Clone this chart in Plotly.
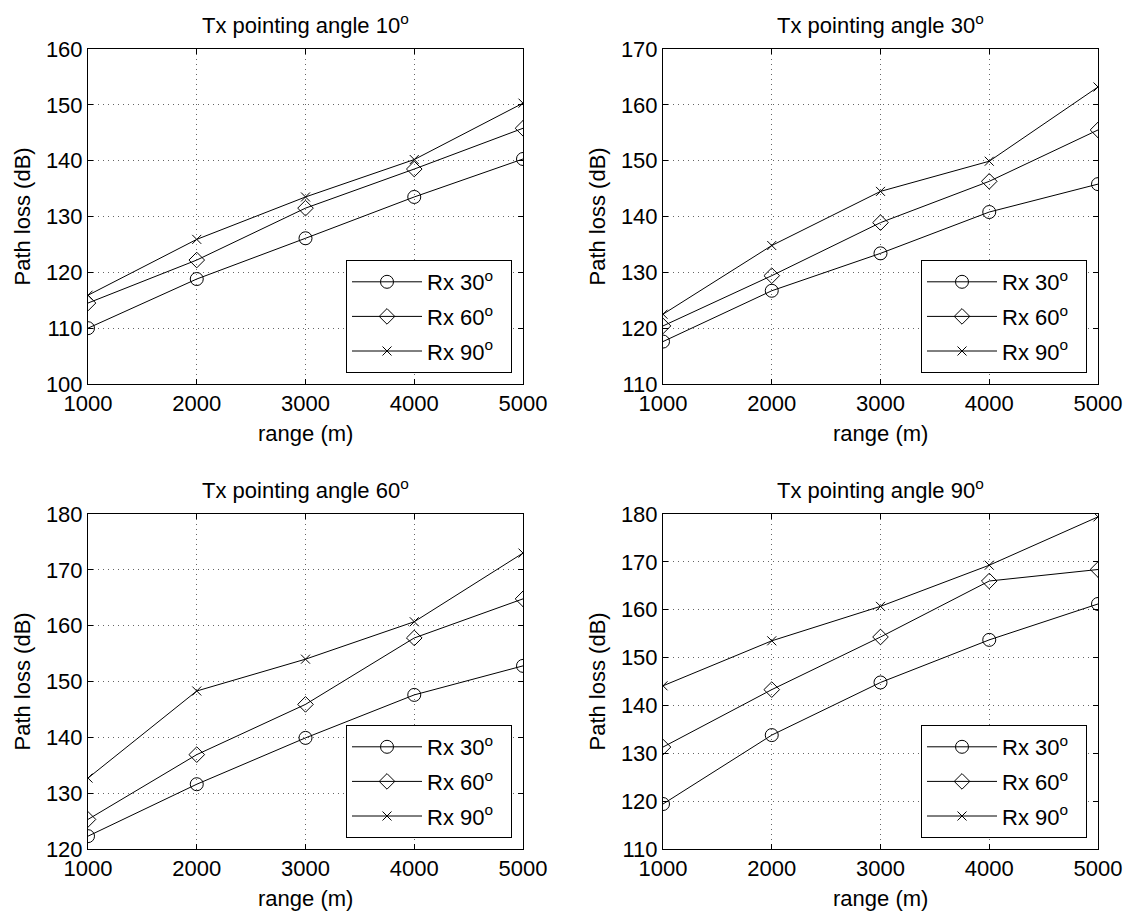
import plotly.graph_objects as go

# page body has an 8px margin, so the figure is drawn 8px in from the page corner
OFF = 8
W, H = 1133 - OFF, 914 - OFF

ranges_m = [1000, 2000, 3000, 4000, 5000]
series_names = ["Rx 30<sup>o</sup>&nbsp;&nbsp;", "Rx 60<sup>o</sup>&nbsp;&nbsp;",
                "Rx 90<sup>o</sup>&nbsp;&nbsp;"]
tx_titles = ["Tx pointing angle 10<sup>o</sup>", "Tx pointing angle 30<sup>o</sup>",
             "Tx pointing angle 60<sup>o</sup>", "Tx pointing angle 90<sup>o</sup>"]
x_title = "range (m)"
y_title = "Path loss (dB)"

# Tx 10 deg
tx10_rx30 = [110.0, 118.8, 126.1, 133.5, 140.3]
tx10_rx60 = [114.5, 122.2, 131.5, 138.5, 145.8]
tx10_rx90 = [115.9, 125.9, 133.5, 140.2, 150.3]
# Tx 30 deg
tx30_rx30 = [117.6, 126.7, 133.4, 140.8, 145.8]
tx30_rx60 = [120.4, 129.4, 138.9, 146.3, 155.5]
tx30_rx90 = [122.5, 134.8, 144.5, 149.9, 163.2]
# Tx 60 deg
tx60_rx30 = [122.3, 131.6, 139.9, 147.6, 152.8]
tx60_rx60 = [125.3, 136.9, 145.9, 157.8, 164.8]
tx60_rx90 = [132.7, 148.3, 154.0, 160.7, 173.0]
# Tx 90 deg
tx90_rx30 = [119.4, 133.8, 144.8, 153.7, 161.2]
tx90_rx60 = [131.3, 143.3, 154.3, 166.0, 168.4]
tx90_rx90 = [144.1, 153.5, 160.7, 169.3, 179.4]

y_ranges = [[100, 160], [110, 170], [120, 180], [110, 180]]

panels = [
    [tx10_rx30, tx10_rx60, tx10_rx90],
    [tx30_rx30, tx30_rx60, tx30_rx90],
    [tx60_rx30, tx60_rx60, tx60_rx90],
    [tx90_rx30, tx90_rx60, tx90_rx90],
]

# axes boxes in page pixels (left, right, top, bottom)
boxes = [(88, 523, 49, 384), (663, 1098, 49, 384),
         (88, 523, 514, 849), (663, 1098, 514, 849)]

markers = [dict(symbol="circle-open", size=13),
           dict(symbol="diamond-open", size=12),
           dict(symbol="x-thin-open", size=9)]

FONT = "Liberation Sans, Arial, Helvetica, sans-serif"

fig = go.Figure()
layout = dict(template="none", width=W, height=H, margin=dict(l=0, r=0, t=0, b=0),
              paper_bgcolor="white", plot_bgcolor="white",
              font=dict(family=FONT, size=22, color="black"),
              annotations=[])


def px(xp):
    return (xp - OFF) / W


def py(yp):
    return 1 - (yp - OFF) / H


for i, (vals, box) in enumerate(zip(panels, boxes)):
    n = "" if i == 0 else str(i + 1)
    leg = "legend" + n
    for j, v in enumerate(vals):
        fig.add_trace(go.Scatter(
            x=ranges_m, y=v, mode="lines+markers", name=series_names[j],
            xaxis="x" + n, yaxis="y" + n, legend=leg, legendgroup=f"g{i}{j}",
            line=dict(color="black", width=1),
            marker=dict(color="black", line=dict(color="black", width=1), **markers[j]),
        ))
    l, r, t, b = box
    xd = [px(l), px(r)]
    yd = [py(b), py(t)]
    axcommon = dict(showline=True, linecolor="black", linewidth=1, mirror="ticks",
                    ticks="inside", ticklen=5, tickcolor="black", automargin=False,
                    showgrid=True, gridcolor="#666666", griddash="1px,4px", gridwidth=1,
                    zeroline=False, tickfont=dict(size=22, family=FONT, color="black"))
    layout["xaxis" + n] = dict(domain=xd, range=[1000, 5000], tickvals=ranges_m,
                               anchor="y" + n, **axcommon)
    layout["yaxis" + n] = dict(domain=yd, range=y_ranges[i], dtick=10,
                               anchor="x" + n, **axcommon)
    layout[leg] = dict(x=px(r - 11), y=py(b - 11), xanchor="right", yanchor="bottom",
                       bgcolor="white", bordercolor="black", borderwidth=1,
                       tracegroupgap=3, traceorder="grouped",
                       font=dict(size=22, family=FONT, color="black"), itemwidth=70)
    layout["annotations"].append(dict(
        text=tx_titles[i], x=(xd[0] + xd[1]) / 2, y=yd[1], xref="paper", yref="paper",
        xanchor="center", yanchor="bottom", yshift=9, showarrow=False,
        font=dict(size=22, family=FONT)))
    layout["annotations"].append(dict(
        text=x_title, x=(xd[0] + xd[1]) / 2, y=py(b + 49), xref="paper", yref="paper",
        xanchor="center", yanchor="middle", showarrow=False,
        font=dict(size=22, family=FONT)))
    layout["annotations"].append(dict(
        text=y_title, x=px(l - 66), y=(yd[0] + yd[1]) / 2, xref="paper", yref="paper",
        xanchor="center", yanchor="middle", textangle=-90, showarrow=False,
        font=dict(size=22, family=FONT)))

fig.update_layout(**layout)
fig.write_html("out.html")
